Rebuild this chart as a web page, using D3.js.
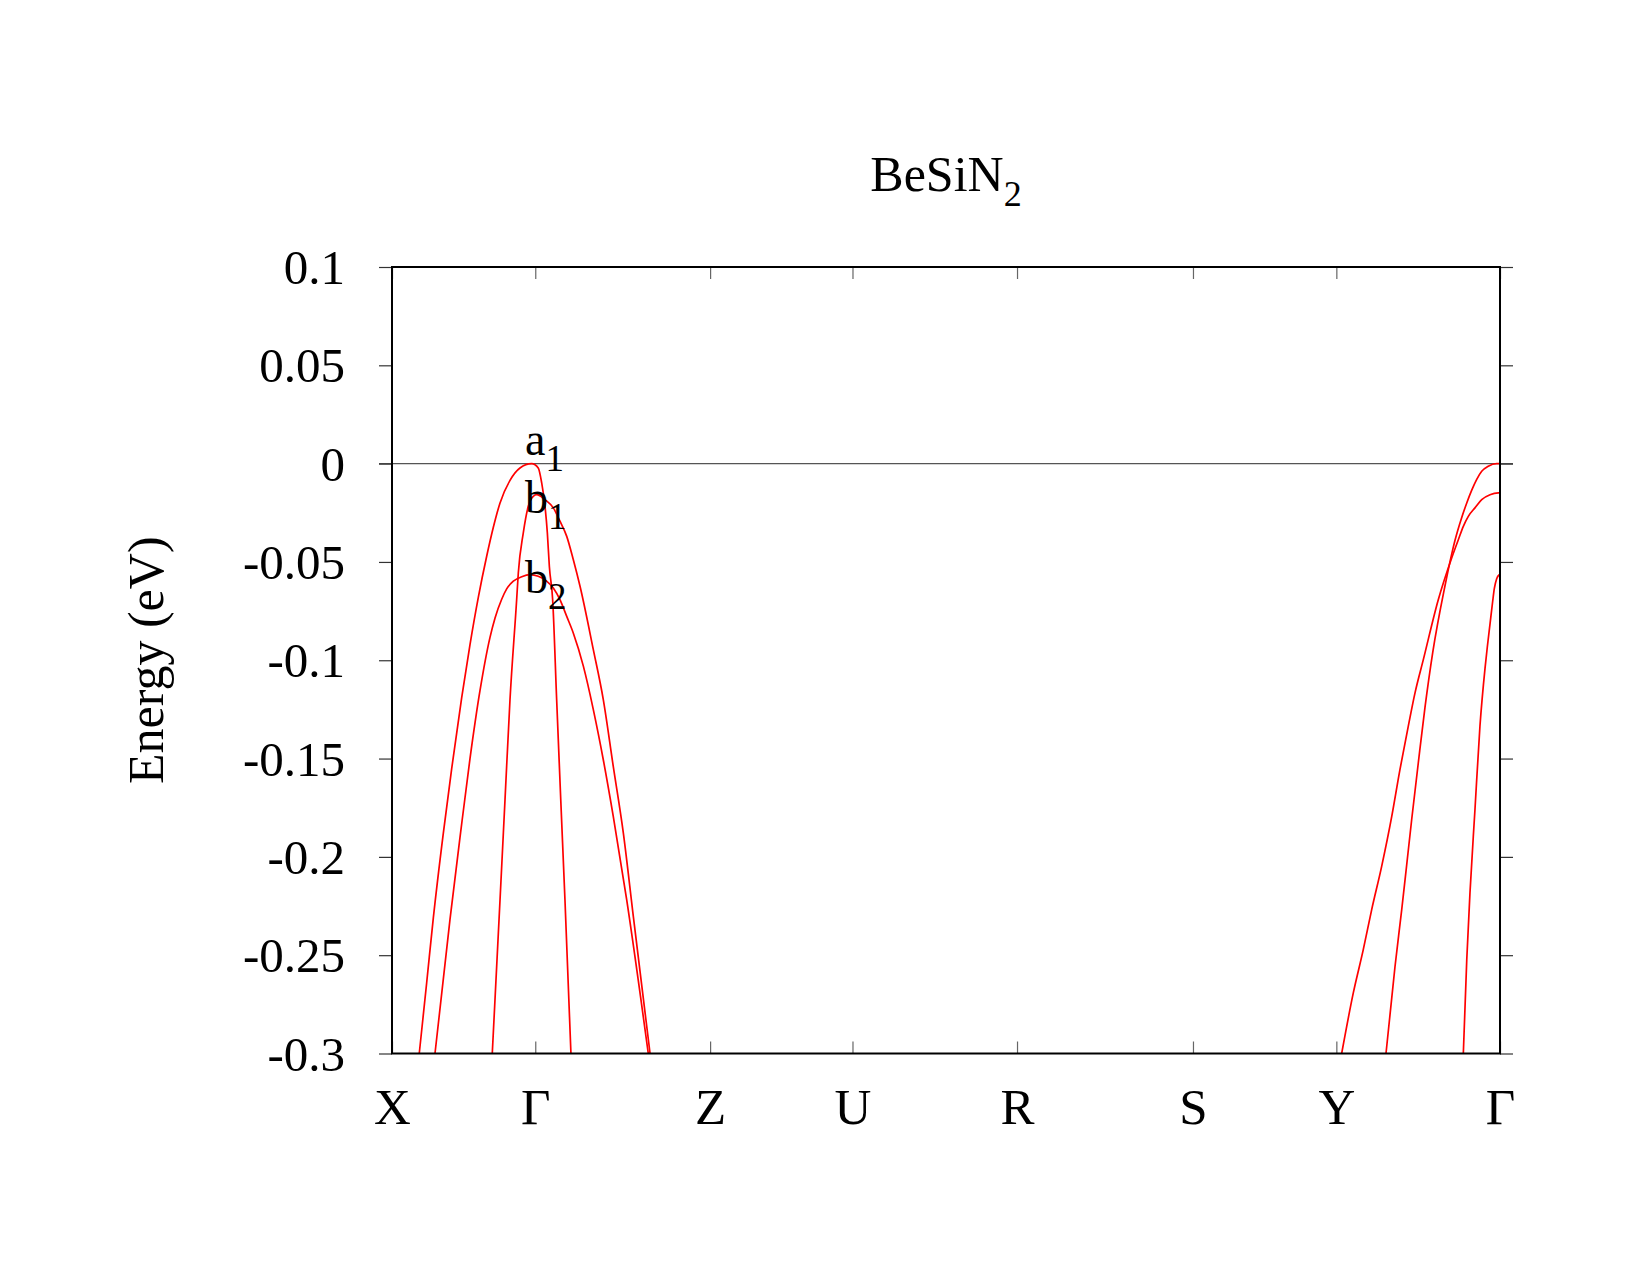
<!DOCTYPE html>
<html>
<head>
<meta charset="utf-8">
<script src="https://cdn.jsdelivr.net/npm/d3@7"></script>
<style>
  html, body { margin: 0; padding: 0; background: #fff; }
  svg text { font-family: "Liberation Serif", "DejaVu Serif", serif; fill: #000; }
</style>
</head>
<body>
<svg id="chart" width="1650" height="1275"></svg>
<script>
// ---------------- data ----------------
const titleMain = "BeSiN";
const titleSub = "2";
const yAxisTitle = "Energy (eV)";

// high-symmetry points along the k-path (normalised path length)
const kPointLabels = ["X", "Γ", "Z", "U", "R", "S", "Y", "Γ"];
const kPointPos    = [0, 0.1293, 0.2871, 0.4156, 0.5641, 0.7229, 0.8523, 1.0];

const yTickValues = [0.1, 0.05, 0, -0.05, -0.1, -0.15, -0.2, -0.25, -0.3];
const yTickLabels = ["0.1", "0.05", "0", "-0.05", "-0.1", "-0.15", "-0.2", "-0.25", "-0.3"];

// band a1 around the first Γ  [k, E(eV)]
const bandA1Gamma = [
  [0.0246, -0.300], [0.0313, -0.264], [0.0373, -0.231], [0.0463, -0.188],
  [0.0539, -0.155], [0.0629, -0.119], [0.0704, -0.092], [0.0779, -0.068],
  [0.0855, -0.047], [0.0914, -0.0325], [0.0975, -0.020], [0.1065, -0.0085],
  [0.1155, -0.0022], [0.1261, 0.0], [0.1320, -0.0022], [0.1351, -0.0098],
  [0.1381, -0.0217], [0.1402, -0.0352], [0.1420, -0.0522], [0.1450, -0.0692],
  [0.1486, -0.120], [0.1523, -0.1709], [0.1561, -0.2218], [0.1615, -0.300]
];
// band b1 around the first Γ
const bandB1Gamma = [
  [0.0905, -0.300], [0.0975, -0.2218], [0.1020, -0.1709], [0.1065, -0.120],
  [0.1125, -0.0692], [0.1140, -0.0556], [0.1185, -0.0352], [0.1230, -0.0217],
  [0.1275, -0.0166], [0.1306, -0.0158], [0.1381, -0.0183], [0.1456, -0.0225],
  [0.1516, -0.0293], [0.1577, -0.037], [0.1636, -0.0488], [0.1697, -0.0624],
  [0.1817, -0.0946], [0.1907, -0.120], [0.1997, -0.154], [0.2088, -0.1879],
  [0.2178, -0.2303], [0.2329, -0.300]
];
// band b2 around the first Γ
const bandB2Gamma = [
  [0.0388, -0.300], [0.0523, -0.232], [0.0614, -0.190], [0.0704, -0.150],
  [0.0794, -0.1155], [0.0884, -0.0885], [0.0930, -0.0785], [0.0990, -0.0690],
  [0.1035, -0.0637], [0.1095, -0.0598], [0.1171, -0.0575], [0.1245, -0.0565],
  [0.1320, -0.0573], [0.1396, -0.0598], [0.1456, -0.0632], [0.1516, -0.0692],
  [0.1577, -0.0777], [0.1636, -0.0861], [0.1727, -0.103], [0.1817, -0.1251],
  [0.1907, -0.1506], [0.1997, -0.1794], [0.2118, -0.2218], [0.2313, -0.300]
];
// bands on the Y–Γ segment
const bandA1YGamma = [
  [0.8971, -0.300], [0.9052, -0.256], [0.9113, -0.2268], [0.9158, -0.204],
  [0.9203, -0.181], [0.9263, -0.152], [0.9323, -0.124], [0.9393, -0.096],
  [0.9504, -0.062], [0.9564, -0.046], [0.9594, -0.039], [0.9654, -0.0275],
  [0.9700, -0.020], [0.9745, -0.0135], [0.9790, -0.0080], [0.9835, -0.0039],
  [0.9894, -0.0013], [0.9970, 0.0], [1.0, 0.0]
];
const bandB1YGamma = [
  [0.8571, -0.300], [0.8676, -0.2692], [0.8766, -0.2472], [0.8842, -0.2268],
  [0.8932, -0.2048], [0.9023, -0.1794], [0.9097, -0.1556], [0.9172, -0.1336],
  [0.9233, -0.1166], [0.9308, -0.0997], [0.9443, -0.0692], [0.9564, -0.048],
  [0.9624, -0.0387], [0.9669, -0.0319], [0.9714, -0.0268], [0.9774, -0.0225],
  [0.9835, -0.0183], [0.9910, -0.0158], [0.9985, -0.0149], [1.0, -0.0149]
];
const bandB2YGamma = [
  [0.9669, -0.300], [0.9700, -0.2523], [0.9729, -0.2183], [0.9774, -0.176],
  [0.9819, -0.1336], [0.9865, -0.104], [0.9885, -0.0935], [0.9910, -0.0815],
  [0.9934, -0.0700], [0.9949, -0.0635], [0.9970, -0.0585], [0.9994, -0.0565],
  [1.0, -0.0563]
];

// band labels: [k, E at baseline, main text, subscript]
const bandLabelK    = [0.1201, 0.1201, 0.1201];
const bandLabelE    = [0.0046, -0.0252, -0.0657];
const bandLabelMain = ["a", "b", "b"];
const bandLabelSub  = ["1", "1", "2"];

// ---------------- layout ----------------
const margin = { left: 392, right: 1500, top: 267, bottom: 1053.5 };
const svg = d3.select("#chart");

const x = d3.scaleLinear().domain([0, 1]).range([margin.left, margin.right]);
const y = d3.scaleLinear().domain([-0.3, 0.1]).range([margin.bottom, margin.top]);

svg.append("rect").attr("width", 1650).attr("height", 1275).attr("fill", "#fff");

svg.append("defs").append("clipPath").attr("id", "plotclip")
  .append("rect")
  .attr("x", margin.left).attr("y", margin.top)
  .attr("width", margin.right - margin.left)
  .attr("height", margin.bottom - margin.top);

// zero line
svg.append("line")
  .attr("x1", margin.left - 13).attr("x2", margin.right + 13)
  .attr("y1", y(0)).attr("y2", y(0))
  .attr("stroke", "#555").attr("stroke-width", 1.2);

// y ticks (outward on both sides)
const yAxisL = d3.axisLeft(y).tickValues(yTickValues)
  .tickFormat((d, i) => yTickLabels[i]).tickSize(13).tickPadding(34);
const gL = svg.append("g").attr("transform", `translate(${margin.left},0)`).call(yAxisL);
gL.select(".domain").remove();
gL.selectAll(".tick line").attr("stroke", "#333").attr("stroke-width", 1.2);
gL.selectAll(".tick text").attr("font-size", 49).attr("dy", "0.34em")
  .style("font-family", '"Liberation Serif", serif');

const yAxisR = d3.axisRight(y).tickValues(yTickValues).tickFormat("").tickSize(13);
const gR = svg.append("g").attr("transform", `translate(${margin.right},0)`).call(yAxisR);
gR.select(".domain").remove();
gR.selectAll(".tick line").attr("stroke", "#333").attr("stroke-width", 1.2);

// x ticks (inward, bottom and top)
const xAxisB = d3.axisBottom(x).tickValues(kPointPos)
  .tickFormat((d, i) => kPointLabels[i]).tickSize(-12).tickPadding(0);
const gB = svg.append("g").attr("transform", `translate(0,${margin.bottom})`).call(xAxisB);
gB.select(".domain").remove();
gB.selectAll(".tick line").attr("stroke", "#666").attr("stroke-width", 1.2);
gB.selectAll(".tick text").attr("font-size", 51).attr("y", 70).attr("dy", 0)
  .style("font-family", '"Liberation Serif", serif');

const xAxisT = d3.axisTop(x).tickValues(kPointPos).tickFormat("").tickSize(-12);
const gT = svg.append("g").attr("transform", `translate(0,${margin.top})`).call(xAxisT);
gT.select(".domain").remove();
gT.selectAll(".tick line").attr("stroke", "#666").attr("stroke-width", 1.2);

// bands
const line = d3.line().x(d => x(d[0])).y(d => y(d[1])).curve(d3.curveMonotoneX);
const bands = [bandA1Gamma, bandB1Gamma, bandB2Gamma, bandA1YGamma, bandB1YGamma, bandB2YGamma];
svg.append("g").attr("clip-path", "url(#plotclip)")
  .selectAll("path").data(bands).join("path")
  .attr("d", line)
  .attr("fill", "none").attr("stroke", "#ff0000").attr("stroke-width", 1.7)
  .attr("stroke-linejoin", "round");

// border
svg.append("rect")
  .attr("x", margin.left).attr("y", margin.top)
  .attr("width", margin.right - margin.left)
  .attr("height", margin.bottom - margin.top)
  .attr("fill", "none").attr("stroke", "#000").attr("stroke-width", 2);

// band labels
bandLabelMain.forEach((m, i) => {
  const t = svg.append("text")
    .attr("x", x(bandLabelK[i])).attr("y", y(bandLabelE[i]))
    .attr("font-size", 46);
  t.append("tspan").text(m);
  t.append("tspan").attr("font-size", 37).attr("dy", 16).text(bandLabelSub[i]);
});

// title
const title = svg.append("text")
  .attr("x", (margin.left + margin.right) / 2).attr("y", 191)
  .attr("text-anchor", "middle").attr("font-size", 50);
title.append("tspan").text(titleMain);
title.append("tspan").attr("font-size", 36).attr("dy", 15).text(titleSub);

// y axis title
svg.append("text")
  .attr("transform", `translate(163,${(margin.top + margin.bottom) / 2}) rotate(-90)`)
  .attr("text-anchor", "middle").attr("font-size", 50)
  .text(yAxisTitle);
</script>
</body>
</html>
